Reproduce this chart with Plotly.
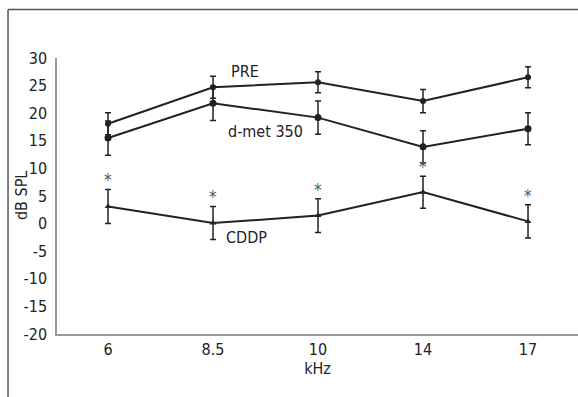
import plotly.graph_objects as go

freqs = ["6", "8.5", "10", "14", "17"]
pre = [18.1, 24.7, 25.6, 22.2, 26.5]
pre_err = [2.0, 2.0, 1.9, 2.1, 1.9]
dmet = [15.5, 21.8, 19.2, 13.9, 17.2]
dmet_err = [3.1, 3.1, 3.0, 2.9, 2.9]
cddp = [3.1, 0.1, 1.45, 5.7, 0.4]
cddp_err = [3.1, 3.0, 3.05, 2.9, 3.0]
yticks = [30, 25, 20, 15, 10, 5, 0, -5, -10, -15, -20]
yticklabels = ["30", "25", "20", "15", "10", "5", "0", "-5", "-10", "-15", "-20"]

FONT = "DejaVu Sans Condensed, Liberation Sans Narrow, sans-serif"
fig = go.Figure()

def add(y, err, symbol, size):
    fig.add_trace(go.Scatter(
        x=freqs, y=y, mode="lines+markers",
        line=dict(color="#222222", width=2),
        marker=dict(symbol=symbol, size=size, color="#222222"),
        error_y=dict(type="data", array=err, visible=True, color="#222222",
                     thickness=1.5, width=3),
        showlegend=False))

add(pre, pre_err, "circle", 6)
add(dmet, dmet_err, "circle", 7)
add(cddp, cddp_err, "triangle-up", 6)

for i, (v, e) in enumerate(zip(cddp, cddp_err)):
    fig.add_annotation(x=i, y=v + e, text="*", showarrow=False,
                       yanchor="bottom", yshift=-3,
                       font=dict(family=FONT, size=17, color="#555555"))

labels = [("PRE", 1.3, 27.6), ("d-met 350", 1.5, 16.7), ("CDDP", 1.32, -2.6)]
for t, x, y in labels:
    fig.add_annotation(x=x, y=y, text=t, showarrow=False,
                       font=dict(family=FONT, size=16, color="#222222"))

# y-axis title
fig.add_annotation(xref="paper", yref="paper", x=-0.069, y=0.5, text="dB SPL",
                   textangle=-90, showarrow=False, xanchor="center", yanchor="middle",
                   font=dict(family=FONT, size=16, color="#222222"))

# outer frame (top and left edges)
fig.add_shape(type="line", xref="paper", yref="paper", x0=-0.094, x1=1.0,
              y0=1.1757, y1=1.1757, line=dict(color="#555555", width=1.5))
fig.add_shape(type="line", xref="paper", yref="paper", x0=-0.094, x1=-0.094,
              y0=1.1757, y1=-0.23, line=dict(color="#555555", width=1.5))

fig.update_layout(
    width=578, height=397,
    margin=dict(l=57, r=0, t=58, b=63),
    paper_bgcolor="white", plot_bgcolor="white",
    font=dict(family=FONT, size=16, color="#222222"),
    xaxis=dict(type="category", range=[-0.486, 4.476], showgrid=False,
               showline=True, linecolor="#999999", linewidth=1.5,
               ticks="", ticklabelstandoff=0,
               title=dict(text="kHz", standoff=0,
                          font=dict(family=FONT, size=16)),
               tickfont=dict(family=FONT, size=16)),
    yaxis=dict(range=[-20, 30], tickvals=yticks, ticktext=yticklabels,
               showgrid=False, zeroline=False, ticklabelstandoff=5,
               showline=True, linecolor="#999999", linewidth=1.5, ticks="",
               tickfont=dict(family=FONT, size=16)),
)

fig.write_html("out.html", config={"displayModeBar": False},
               post_script="document.body.style.margin='0';")
